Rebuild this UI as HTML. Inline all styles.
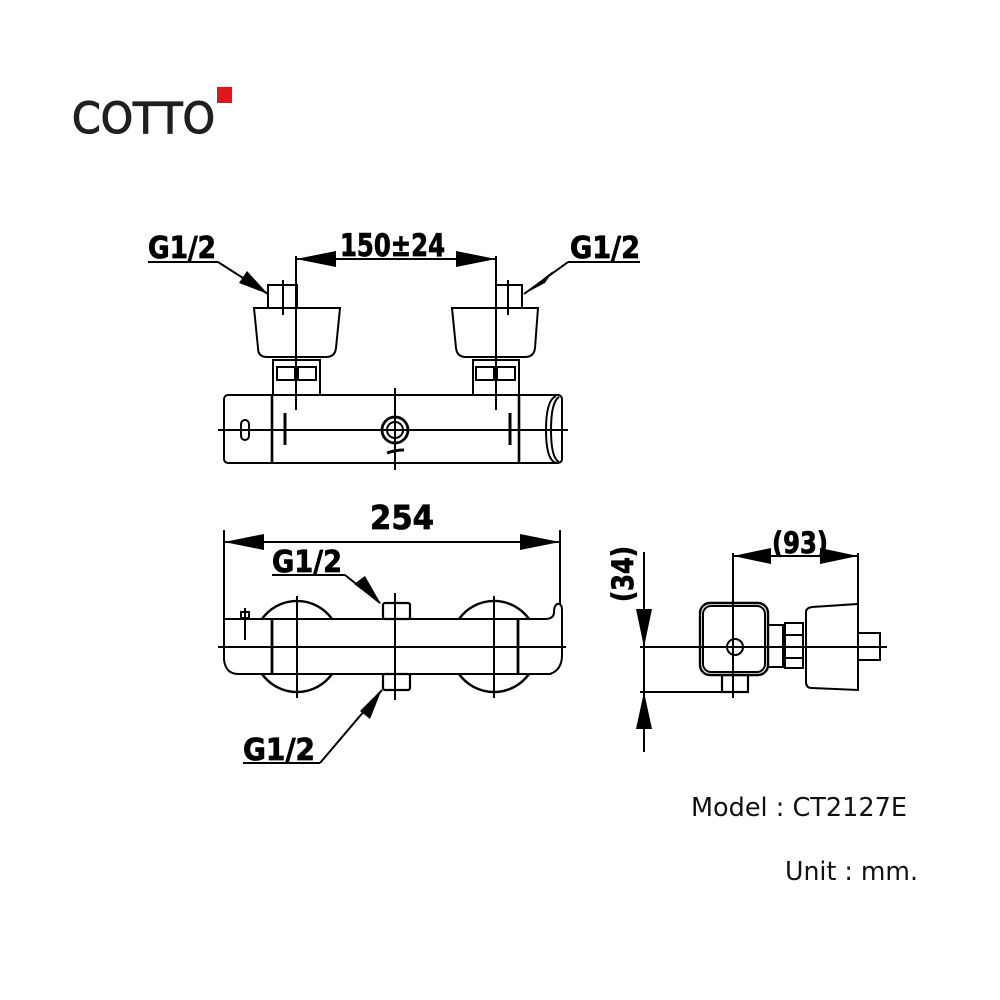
<!DOCTYPE html>
<html><head><meta charset="utf-8"><style>
html,body{margin:0;padding:0;background:#fff;}
svg{display:block;}
text{font-family:"DejaVu Sans","Liberation Sans",sans-serif;}
</style></head><body>
<svg width="1000" height="1000" viewBox="0 0 1000 1000" xmlns="http://www.w3.org/2000/svg">
<rect width="1000" height="1000" fill="#fff"/>
<!-- logo -->
<text x="72" y="133" font-size="43" fill="#231f20" stroke="#231f20" stroke-width="1.2" textLength="143" lengthAdjust="spacingAndGlyphs" style="font-family:'DejaVu Sans',sans-serif">COTTO</text>
<rect x="217" y="87" width="15" height="16" fill="#e0161c"/>

<g fill="none" stroke="#000" stroke-width="2">
<!-- TOP VIEW -->
<rect x="224" y="395" width="338" height="68" rx="4"/>
<line x1="272" y1="395" x2="272" y2="463" stroke-width="2.6"/>
<line x1="519" y1="395" x2="519" y2="463" stroke-width="2.6"/>
<path d="M556 396 Q546 400 546 430 Q546 460 556 463"/>
<path d="M559 397 Q551 402 551 430 Q551 458 559 462"/>
<line x1="218" y1="430" x2="568" y2="430"/>
<rect x="241" y="420" width="8" height="20" rx="4"/>
<circle cx="395" cy="430" r="13" stroke-width="2.8"/>
<circle cx="395" cy="430" r="8"/>
<line x1="395" y1="388" x2="395" y2="470"/>
<path d="M387 453 Q395 450 404 450" stroke-width="3"/>
<line x1="285" y1="413" x2="285" y2="445" stroke-width="3"/>
<line x1="510" y1="413" x2="510" y2="445" stroke-width="3"/>
<!-- left connector -->
<rect x="273" y="360" width="47" height="35"/>
<rect x="277" y="367" width="18" height="13"/>
<rect x="298" y="367" width="18" height="13"/>
<path d="M254 308 L340 308 L336 348 Q335 357 326 357 L267 357 Q258 357 258 348 Z"/>
<rect x="268" y="285" width="29" height="23"/>
<line x1="283" y1="280" x2="283" y2="315"/>
<line x1="296" y1="256" x2="296" y2="410"/>
<!-- right connector -->
<rect x="473" y="360" width="46" height="35"/>
<rect x="476" y="367" width="18" height="13"/>
<rect x="497" y="367" width="18" height="13"/>
<path d="M452 308 L538 308 L535 348 Q534 357 525 357 L466 357 Q457 357 456 348 Z"/>
<rect x="496" y="285" width="26" height="23"/>
<line x1="508" y1="280" x2="508" y2="315"/>
<line x1="496" y1="256" x2="496" y2="410"/>
<!-- 150 dim -->
<line x1="296" y1="259" x2="496" y2="259"/>
<line x1="148" y1="262" x2="218" y2="262"/>
<line x1="218" y1="262" x2="268" y2="294"/>
<line x1="568" y1="262" x2="640" y2="262"/>
<line x1="568" y1="262" x2="524" y2="294"/>

<!-- FRONT VIEW -->
<line x1="224" y1="530" x2="224" y2="620"/>
<line x1="560" y1="530" x2="560" y2="605"/>
<line x1="224" y1="542" x2="560" y2="542"/>
<path d="M262 619 A43 43 0 0 1 332 619" stroke-width="2.4"/>
<path d="M262 674 A43 43 0 0 0 332 674" stroke-width="2.4"/>
<path d="M459 619 A43 43 0 0 1 529 619" stroke-width="2.4"/>
<path d="M459 674 A43 43 0 0 0 529 674" stroke-width="2.4"/>
<path d="M224 619 L224 660 Q226 674 238 674 L550 674 Q562 670 562 655 L562 610 Q562 603 557 604 Q554 606 554 612 Q554 619 545 619 Z"/>
<line x1="272" y1="619" x2="272" y2="674" stroke-width="2.8"/>
<line x1="518" y1="619" x2="518" y2="674" stroke-width="2.8"/>
<line x1="218" y1="647" x2="566" y2="647"/>
<line x1="297" y1="596" x2="297" y2="698"/>
<line x1="494" y1="596" x2="494" y2="698"/>
<line x1="395" y1="593" x2="395" y2="700"/>
<rect x="383" y="603" width="27" height="16" rx="2" stroke-width="2.2"/>
<rect x="383" y="674" width="27" height="16" rx="2" stroke-width="2.2"/>
<line x1="245" y1="608" x2="245" y2="640"/>
<rect x="241" y="612" width="8" height="6"/>
<line x1="272" y1="575" x2="345" y2="575"/>
<line x1="345" y1="575" x2="380" y2="603"/>
<line x1="243" y1="763" x2="320" y2="763"/>
<line x1="320" y1="763" x2="382" y2="690"/>

<!-- SIDE VIEW -->
<line x1="644" y1="552" x2="644" y2="752"/>
<line x1="640" y1="647" x2="887" y2="647"/>
<line x1="640" y1="692" x2="722" y2="692"/>
<rect x="700" y="603" width="68" height="72" rx="10" stroke-width="2.4"/>
<rect x="703" y="606" width="62" height="66" rx="8"/>
<circle cx="735" cy="647" r="8"/>
<rect x="722" y="675" width="26" height="17" stroke-width="2.2"/>
<rect x="768" y="625" width="15" height="42"/>
<rect x="785" y="623" width="18" height="45"/>
<line x1="785" y1="635" x2="803" y2="635"/><line x1="785" y1="658" x2="803" y2="658"/>
<path d="M806 612 Q806 608 812 607 L858 604 L858 690 L812 688 Q806 688 806 682 Z"/>
<rect x="858" y="633" width="22" height="27"/>
<line x1="733" y1="553" x2="733" y2="698"/>
<line x1="858" y1="553" x2="858" y2="605"/>
<line x1="733" y1="556" x2="858" y2="556"/>
</g>

<g fill="#000">
<polygon points="296,259 336,251 336,267"/>
<polygon points="496,259 456,251 456,267"/>
<polygon points="268,294 247,271 239,283"/>
<polygon points="524,294 553,271 545,283"/>
<polygon points="224,542 264,534 264,550"/>
<polygon points="560,542 520,534 520,550"/>
<polygon points="381,604 365,576 354,584"/>
<polygon points="382,689 360,711 370,719"/>
<polygon points="644,647 636,609 652,609"/>
<polygon points="644,692 636,729 652,729"/>
<polygon points="733,556 771,548 771,564"/>
<polygon points="858,556 820,548 820,564"/>
</g>

<g font-weight="bold" fill="#000" stroke="#000" stroke-width="0.8" style="font-family:'DejaVu Sans Condensed','DejaVu Sans',sans-serif">
<text x="148" y="258" font-size="30" textLength="68" lengthAdjust="spacingAndGlyphs">G1/2</text>
<text x="570" y="258" font-size="30" textLength="70" lengthAdjust="spacingAndGlyphs">G1/2</text>
<text x="340" y="256" font-size="31" textLength="105" lengthAdjust="spacingAndGlyphs">150±24</text>
<text x="370" y="529" font-size="33" textLength="64" lengthAdjust="spacingAndGlyphs">254</text>
<text x="272" y="572" font-size="30" textLength="70" lengthAdjust="spacingAndGlyphs">G1/2</text>
<text x="243" y="760" font-size="30" textLength="72" lengthAdjust="spacingAndGlyphs">G1/2</text>
<text x="772" y="553" font-size="29" textLength="56" lengthAdjust="spacingAndGlyphs">(93)</text>
<text transform="translate(633,602) rotate(-90)" x="0" y="0" font-size="29" textLength="56" lengthAdjust="spacingAndGlyphs">(34)</text>
</g>

<text x="691" y="816" font-size="26" fill="#111" textLength="216" lengthAdjust="spacingAndGlyphs">Model : CT2127E</text>
<text x="785" y="880" font-size="26" fill="#111" textLength="133" lengthAdjust="spacingAndGlyphs">Unit : mm.</text>
</svg>
</body></html>
